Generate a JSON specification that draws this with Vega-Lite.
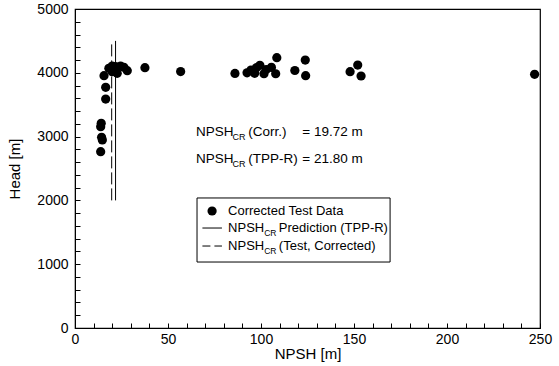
{
  "$schema": "https://vega.github.io/schema/vega-lite/v6.json",
  "width": 465,
  "height": 319,
  "autosize": "none",
  "padding": {"left": 75, "top": 9, "right": 19, "bottom": 38},
  "background": "white",
  "config": {
    "view": {"stroke": "black", "strokeWidth": 1.2},
    "font": "Liberation Sans",
    "axis": {
      "domainColor": "black",
      "tickColor": "black",
      "labelColor": "black",
      "titleColor": "black",
      "labelFont": "Liberation Sans",
      "titleFont": "Liberation Sans",
      "labelFontSize": 14,
      "titleFontSize": 15,
      "titleFontWeight": "normal",
      "grid": false
    }
  },
  "datasets": {
    "pts": [
      {"NPSH": 13.8, "Head": 2763}, {"NPSH": 14.7, "Head": 2947}, {"NPSH": 14.3, "Head": 2990},
      {"NPSH": 13.8, "Head": 3155}, {"NPSH": 14.1, "Head": 3208}, {"NPSH": 16.5, "Head": 3589},
      {"NPSH": 16.5, "Head": 3772}, {"NPSH": 15.6, "Head": 3955}, {"NPSH": 18.2, "Head": 4070},
      {"NPSH": 20.0, "Head": 4106}, {"NPSH": 21.8, "Head": 4096}, {"NPSH": 24.5, "Head": 4106},
      {"NPSH": 26.3, "Head": 4086}, {"NPSH": 28.1, "Head": 4033}, {"NPSH": 22.7, "Head": 3992},
      {"NPSH": 20.0, "Head": 4018}, {"NPSH": 37.6, "Head": 4080}, {"NPSH": 56.8, "Head": 4020},
      {"NPSH": 86.0, "Head": 3990}, {"NPSH": 92.5, "Head": 4000}, {"NPSH": 94.6, "Head": 4044},
      {"NPSH": 96.6, "Head": 3992}, {"NPSH": 97.5, "Head": 4080}, {"NPSH": 99.4, "Head": 4117},
      {"NPSH": 101.6, "Head": 3985}, {"NPSH": 102.8, "Head": 4050}, {"NPSH": 105.6, "Head": 4085},
      {"NPSH": 107.9, "Head": 3985}, {"NPSH": 108.5, "Head": 4237}, {"NPSH": 118.2, "Head": 4036},
      {"NPSH": 123.8, "Head": 4200}, {"NPSH": 124.0, "Head": 3955}, {"NPSH": 147.9, "Head": 4018},
      {"NPSH": 152.0, "Head": 4122}, {"NPSH": 153.8, "Head": 3950}, {"NPSH": 247.1, "Head": 3976}
    ],
    "vlines": [
      {"series": "corr", "NPSH": 19.72, "Head": 2000, "Head2": 4500},
      {"series": "pred", "NPSH": 21.8, "Head": 2000, "Head2": 4500}
    ],
    "legbox": [{"x1": 65.6, "x2": 169.4, "y1": 1034, "y2": 2038}],
    "legdot": [{"NPSH": 73.7, "Head": 1834}],
    "legline": [
      {"series": "pred", "x1": 68.5, "x2": 79.0, "Head": 1567},
      {"series": "corr", "x1": 68.5, "x2": 79.0, "Head": 1285}
    ],
    "legtext": [
      {"NPSH": 82.3, "Head": 1834, "t": "Corrected Test Data"},
      {"NPSH": 82.3, "Head": 1567, "t": "NPSH"},
      {"NPSH": 109.6, "Head": 1567, "t": "Prediction (TPP-R)"},
      {"NPSH": 82.3, "Head": 1285, "t": "NPSH"},
      {"NPSH": 109.6, "Head": 1285, "t": "(Test, Corrected)"}
    ],
    "legsub": [
      {"NPSH": 101.7, "Head": 1567, "t": "CR"},
      {"NPSH": 101.7, "Head": 1285, "t": "CR"}
    ],
    "anntext": [
      {"NPSH": 65.1, "Head": 3070, "t": "NPSH"},
      {"NPSH": 93.2, "Head": 3070, "t": "(Corr.)"},
      {"NPSH": 122.2, "Head": 3070, "t": "= 19.72 m"},
      {"NPSH": 65.1, "Head": 2650, "t": "NPSH"},
      {"NPSH": 93.2, "Head": 2650, "t": "(TPP-R)"},
      {"NPSH": 122.2, "Head": 2650, "t": "= 21.80 m"}
    ],
    "annsub": [
      {"NPSH": 84.7, "Head": 3070, "t": "CR"},
      {"NPSH": 84.7, "Head": 2650, "t": "CR"}
    ]
  },
  "layer": [
    {
      "data": {"name": "pts"},
      "mark": {"type": "circle", "size": 85, "color": "black", "opacity": 1},
      "encoding": {
        "x": {
          "field": "NPSH", "type": "quantitative",
          "scale": {"domain": [0, 250], "nice": false, "zero": false},
          "axis": {
            "title": "NPSH [m]",
            "values": [0, 10, 20, 30, 40, 50, 60, 70, 80, 90, 100, 110, 120, 130, 140, 150, 160, 170, 180, 190, 200, 210, 220, 230, 240, 250],
            "tickCount": 100,
            "labelExpr": "datum.value % 50 === 0 ? datum.label : ''",
            "labelOverlap": false,
            "labelFlush": false,
            "labelBound": false,
            "tickSize": -5,
            "labelPadding": 9,
            "titlePadding": 0
          }
        },
        "y": {
          "field": "Head", "type": "quantitative",
          "scale": {"domain": [0, 5000], "nice": false},
          "axis": {
            "title": "Head [m]",
            "values": [0, 200, 400, 600, 800, 1000, 1200, 1400, 1600, 1800, 2000, 2200, 2400, 2600, 2800, 3000, 3200, 3400, 3600, 3800, 4000, 4200, 4400, 4600, 4800, 5000],
            "tickCount": 100,
            "labelExpr": "datum.value % 1000 === 0 ? datum.label : ''",
            "labelOverlap": false,
            "labelFlush": false,
            "labelBound": false,
            "format": "d",
            "tickSize": -5,
            "labelPadding": 12,
            "titlePadding": 14
          }
        }
      }
    },
    {
      "data": {"name": "vlines"},
      "transform": [{"filter": "datum.series === 'corr'"}],
      "mark": {"type": "rule", "color": "black", "strokeWidth": 1, "strokeDash": [12, 4]},
      "encoding": {
        "x": {"field": "NPSH", "type": "quantitative"},
        "y": {"field": "Head", "type": "quantitative"},
        "y2": {"field": "Head2"}
      }
    },
    {
      "data": {"name": "vlines"},
      "transform": [{"filter": "datum.series === 'pred'"}],
      "mark": {"type": "rule", "color": "black", "strokeWidth": 1},
      "encoding": {
        "x": {"field": "NPSH", "type": "quantitative"},
        "y": {"field": "Head", "type": "quantitative"},
        "y2": {"field": "Head2"}
      }
    },
    {
      "data": {"name": "legbox"},
      "mark": {"type": "rect", "fill": "white", "stroke": "black", "strokeWidth": 1},
      "encoding": {
        "x": {"field": "x1", "type": "quantitative"},
        "x2": {"field": "x2"},
        "y": {"field": "y1", "type": "quantitative"},
        "y2": {"field": "y2"}
      }
    },
    {
      "data": {"name": "legdot"},
      "mark": {"type": "circle", "size": 85, "color": "black", "opacity": 1},
      "encoding": {
        "x": {"field": "NPSH", "type": "quantitative"},
        "y": {"field": "Head", "type": "quantitative"}
      }
    },
    {
      "data": {"name": "legline"},
      "transform": [{"filter": "datum.series === 'pred'"}],
      "mark": {"type": "rule", "color": "black", "strokeWidth": 1},
      "encoding": {
        "x": {"field": "x1", "type": "quantitative"},
        "x2": {"field": "x2"},
        "y": {"field": "Head", "type": "quantitative"}
      }
    },
    {
      "data": {"name": "legline"},
      "transform": [{"filter": "datum.series === 'corr'"}],
      "mark": {"type": "rule", "color": "black", "strokeWidth": 1, "strokeDash": [8, 4]},
      "encoding": {
        "x": {"field": "x1", "type": "quantitative"},
        "x2": {"field": "x2"},
        "y": {"field": "Head", "type": "quantitative"}
      }
    },
    {
      "data": {"name": "legtext"},
      "mark": {"type": "text", "align": "left", "baseline": "middle", "fontSize": 13, "color": "black", "font": "Liberation Sans"},
      "encoding": {
        "x": {"field": "NPSH", "type": "quantitative"},
        "y": {"field": "Head", "type": "quantitative"},
        "text": {"field": "t"}
      }
    },
    {
      "data": {"name": "legsub"},
      "mark": {"type": "text", "align": "left", "baseline": "middle", "fontSize": 8.5, "dy": 5, "color": "black", "font": "Liberation Sans"},
      "encoding": {
        "x": {"field": "NPSH", "type": "quantitative"},
        "y": {"field": "Head", "type": "quantitative"},
        "text": {"field": "t"}
      }
    },
    {
      "data": {"name": "anntext"},
      "mark": {"type": "text", "align": "left", "baseline": "middle", "fontSize": 13.5, "color": "black", "font": "Liberation Sans"},
      "encoding": {
        "x": {"field": "NPSH", "type": "quantitative"},
        "y": {"field": "Head", "type": "quantitative"},
        "text": {"field": "t"}
      }
    },
    {
      "data": {"name": "annsub"},
      "mark": {"type": "text", "align": "left", "baseline": "middle", "fontSize": 9, "dy": 5, "color": "black", "font": "Liberation Sans"},
      "encoding": {
        "x": {"field": "NPSH", "type": "quantitative"},
        "y": {"field": "Head", "type": "quantitative"},
        "text": {"field": "t"}
      }
    }
  ]
}
